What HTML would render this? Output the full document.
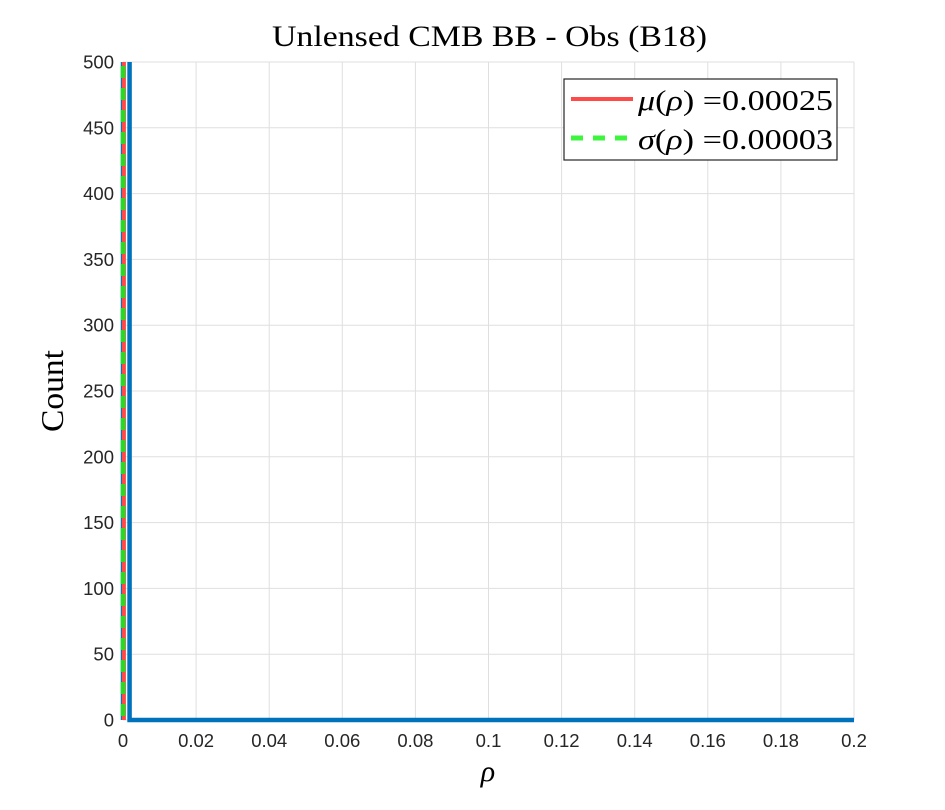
<!DOCTYPE html>
<html><head><meta charset="utf-8">
<style>
html,body{margin:0;padding:0;background:#fff;}
svg{display:block;}
.tick{font-family:"Liberation Sans",sans-serif;font-size:18.5px;fill:#262626;}
.serif{font-family:"Liberation Serif",serif;fill:#000;}
</style></head>
<body>
<svg id="chart" width="945" height="810" viewBox="0 0 945 810">
<g id="grid"></g>
<g id="ticks"></g>
<g id="marks"></g>
<text class="serif" x="272" y="46" font-size="30" textLength="435" lengthAdjust="spacingAndGlyphs">Unlensed CMB BB - Obs (B18)</text>
<text class="serif" x="488" y="781" font-size="30" font-style="italic" text-anchor="middle">ρ</text>
<text class="serif" x="-432" y="63" font-size="32" textLength="82" lengthAdjust="spacingAndGlyphs" transform="rotate(-90)">Count</text>
<g>
<rect x="564" y="79" width="273" height="81" fill="#fff" stroke="#262626" stroke-width="1.2"/>
<g>
<line x1="571" y1="99" x2="633" y2="99" stroke="#ff4a4a" stroke-width="4"/>
<text class="serif" x="638" y="110" font-size="29" textLength="195" lengthAdjust="spacingAndGlyphs"><tspan font-style="italic">μ</tspan>(<tspan font-style="italic">ρ</tspan>) =0.00025</text>
</g>
<g>
<line x1="571" y1="138" x2="633" y2="138" stroke="#3cf53c" stroke-width="5" stroke-dasharray="12,10"/>
<text class="serif" x="638" y="149" font-size="29" textLength="195" lengthAdjust="spacingAndGlyphs"><tspan font-style="italic">σ</tspan>(<tspan font-style="italic">ρ</tspan>) =0.00003</text>
</g>
</g>
</svg>
<script>
const binEdges = [0, 0.0018, 0.2];
const binCounts = [1000, 0];
const meanValue = 0.00025;
const sigmaValue = 0.00003;
const xTicks = [0, 0.02, 0.04, 0.06, 0.08, 0.1, 0.12, 0.14, 0.16, 0.18, 0.2];
const xTickLabels = ["0","0.02","0.04","0.06","0.08","0.1","0.12","0.14","0.16","0.18","0.2"];
const yTicks = [0, 50, 100, 150, 200, 250, 300, 350, 400, 450, 500];

const X0 = 123, X1 = 854, Y0 = 720, Y1 = 62;
const xMin = 0, xMax = 0.2, yMin = 0, yMax = 500;
function xs(v){ return X0 + (v - xMin) / (xMax - xMin) * (X1 - X0); }
function ys(v){ return Y0 - (v - yMin) / (yMax - yMin) * (Y0 - Y1); }
const NS = "http://www.w3.org/2000/svg";
function mk(tag, attrs){ const e = document.createElementNS(NS, tag); for (const k in attrs) e.setAttribute(k, attrs[k]); return e; }

const grid = document.getElementById('grid');
const ticks = document.getElementById('ticks');
const marks = document.getElementById('marks');

xTicks.forEach((t, i) => {
  const l = mk('line', {x1: xs(t), x2: xs(t), y1: Y1, y2: Y0, stroke: '#dfdfdf', 'stroke-width': 1});
  
  
  grid.appendChild(l);
  const tx = mk('text', {x: xs(t), y: 747, 'text-anchor': 'middle', class: 'tick'});
  tx.textContent = xTickLabels[i];
  
  
  ticks.appendChild(tx);
});
yTicks.forEach(t => {
  const l = mk('line', {x1: X0, x2: X1, y1: ys(t), y2: ys(t), stroke: '#dfdfdf', 'stroke-width': 1});
  
  
  grid.appendChild(l);
  const tx = mk('text', {x: 114, y: ys(t) + 6.5, 'text-anchor': 'end', class: 'tick'});
  tx.textContent = String(t);
  
  
  ticks.appendChild(tx);
});

const clip = mk('clipPath', {id: 'plotclip'});
clip.appendChild(mk('rect', {x: X0 - 3, y: Y1, width: X1 - X0 + 6, height: Y0 - Y1 + 3}));
document.getElementById('chart').appendChild(clip);
let d = 'M' + xs(binEdges[0]) + ',' + ys(0);
binCounts.forEach((c, i) => {
  d += ' L' + xs(binEdges[i]) + ',' + ys(c) + ' L' + xs(binEdges[i + 1]) + ',' + ys(c);
});
d += ' L' + xs(binEdges[binEdges.length - 1]) + ',' + ys(0);
const hist = mk('path', {d: d, fill: 'none', stroke: '#0072BD', 'stroke-width': 4.5, 'clip-path': 'url(#plotclip)'});


marks.appendChild(hist);

const meanLine = mk('line', {x1: xs(meanValue), x2: xs(meanValue), y1: Y1, y2: Y0, stroke: '#ff4a4a', 'stroke-width': 4});


marks.appendChild(meanLine);

const sigLine = mk('line', {x1: xs(sigmaValue), x2: xs(sigmaValue), y1: Y1 + 4, y2: Y0, stroke: '#22dd22', 'stroke-width': 4.5, 'stroke-dasharray': '12,10'});


marks.appendChild(sigLine);
</script>
</body></html>
